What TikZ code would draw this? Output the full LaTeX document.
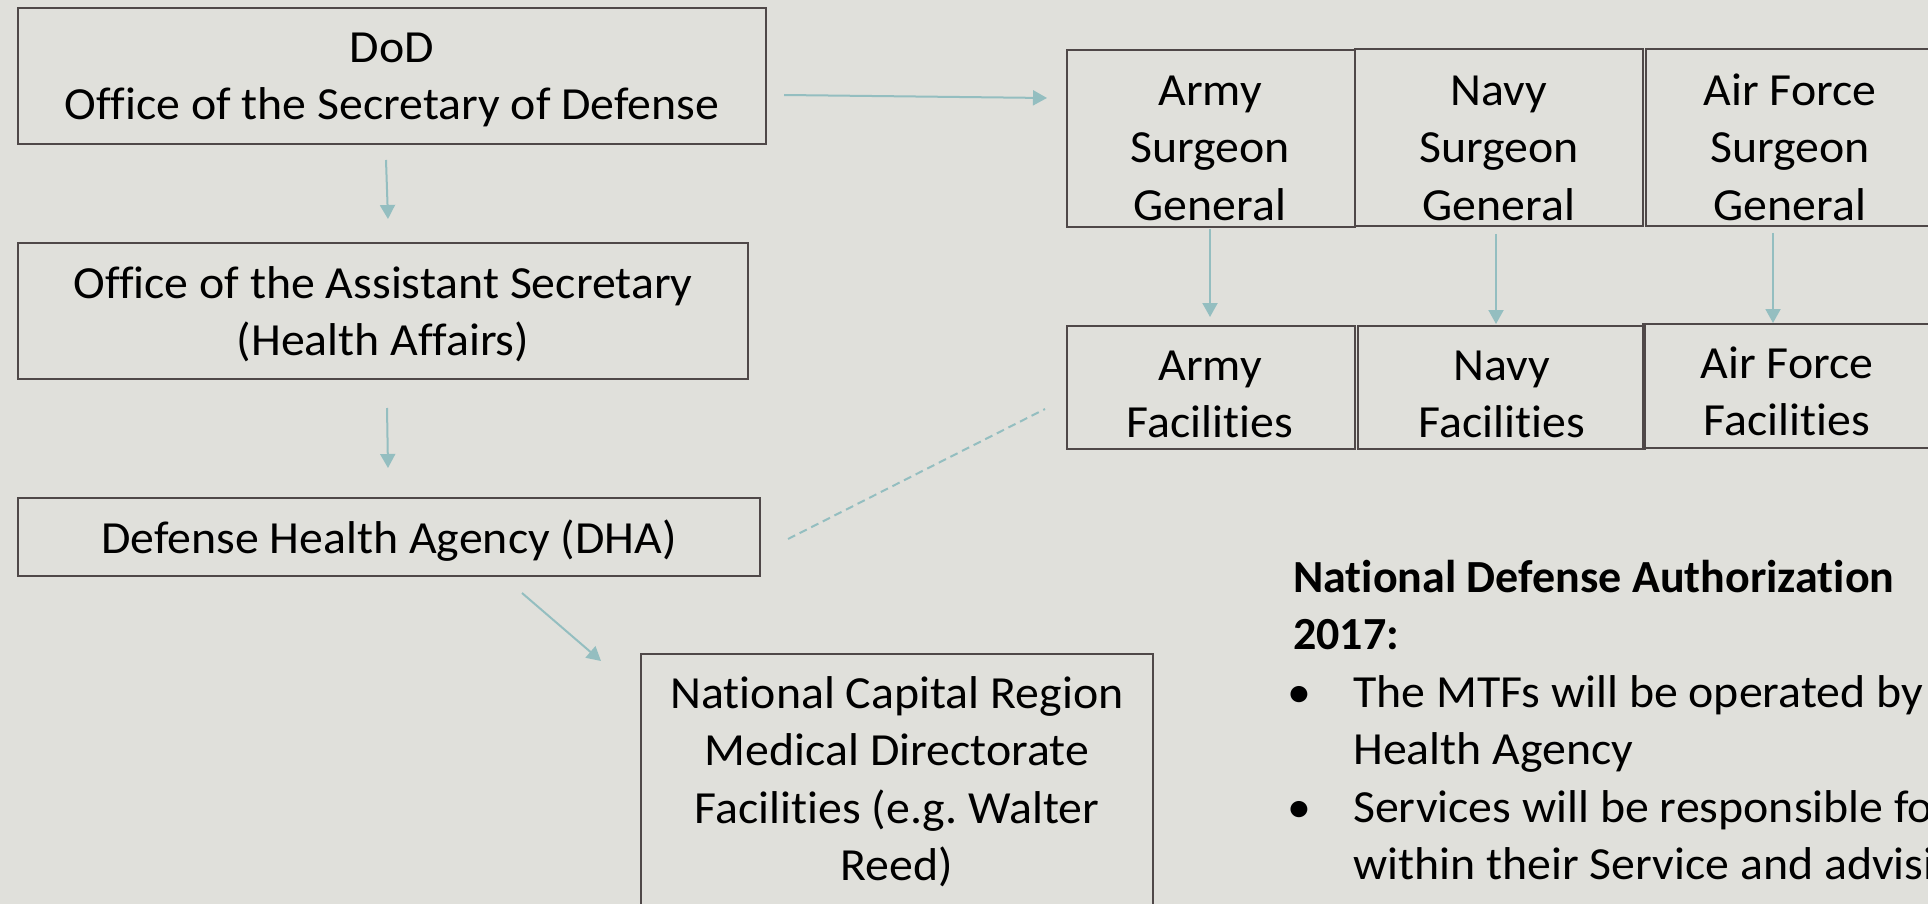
\documentclass[tikz,border=0pt]{standalone}
\usepackage{fontspec}
\setmainfont{Carlito}[Ligatures=NoCommon, FakeStretch=1.04]
\newfontfamily\headfont{Carlito}[Ligatures=NoCommon]
\usetikzlibrary{arrows.meta,calc}
\definecolor{bgc}{HTML}{E0E0DB}
\definecolor{arrc}{HTML}{94BEC0}
\definecolor{boxc}{HTML}{4F4848}
\newcommand{\tstr}{\rule{0pt}{40pt}}
\frenchspacing
\begin{document}
\begin{tikzpicture}[x=1pt,y=-1pt,
  font=\fontsize{46}{57.5}\selectfont,
  box/.style={draw=boxc, line width=2pt, inner sep=0pt},
  txt/.style={anchor=north, inner sep=0pt, align=center},
  arr/.style={draw=arrc, line width=2pt, -{Triangle[length=14pt,width=15pt]}},
  dashline/.style={draw=arrc, line width=2pt, dash pattern=on 8pt off 5pt}]
\path[use as bounding box, fill=bgc] (0,0) rectangle (1928,904);
\clip (0,0) rectangle (1928,904);

% boxes
\node[box, minimum width=748pt, minimum height=136pt] (dod) at (392,76) {};
\node[box, minimum width=730pt, minimum height=136pt] (oasd) at (383,311) {};
\node[box, minimum width=742pt, minimum height=78pt] (dha) at (389,537) {};
\node[box, minimum width=288pt, minimum height=177pt] (armysg) at (1211,138.5) {};
\node[box, minimum width=288pt, minimum height=177pt] (navysg) at (1499,137.5) {};
\node[box, minimum width=288pt, minimum height=177pt] (afsg) at (1790,137.5) {};
\node[box, minimum width=288pt, minimum height=123pt] (armyfac) at (1211,387.5) {};
\node[box, minimum width=287pt, minimum height=123pt] (navyfac) at (1501.5,387.5) {};
\node[box, minimum width=288pt, minimum height=124pt] (affac) at (1787,386) {};
\node[box, minimum width=512pt, minimum height=276pt] (ncr) at (897,792) {};

% box texts
\node[txt] (dodt) at (392,22) {\tstr DoD\\Office of the Secretary of Defense};
\node[txt] (oasdt) at (383,258) {\tstr Office of the Assistant Secretary\\(Health Affairs)};
\node[txt] (dhat) at (389,513) {\tstr Defense Health Agency (DHA)};
\node[txt] (armysgt) at (1210,65) {\tstr Army\\Surgeon\\General};
\node[txt] (navysgt) at (1499,65) {\tstr Navy\\Surgeon\\General};
\node[txt] (afsgt) at (1790,65) {\tstr Air Force\\Surgeon\\General};
\node[txt] (armyfact) at (1210,340) {\tstr Army\\Facilities};
\node[txt] (navyfact) at (1502,340) {\tstr Navy\\Facilities};
\node[txt] (affact) at (1787,338) {\tstr Air Force\\Facilities};
\node[txt] (ncrt) at (897,668) {\tstr National Capital Region\\Medical Directorate\\Facilities (e.g. Walter\\Reed)};

% connectors
\draw[arr] ($(dod.south)+(-6,15)$) -- ($(oasd.north)+(5,-23)$);
\draw[arr] ($(oasd.south)+(4,28)$) -- ($(dha.north)+(-1,-29)$);
\draw[arr] ($(dod.east)+(17,19)$) -- ($(armysg.west)+(-19,-40.5)$);
\draw[arr] ($(armysg.south)+(-1,1)$) -- ($(armyfac.north)+(-1,-8)$);
\draw[arr] ($(navysg.south)+(-3,7)$) -- ($(navyfac.north)+(-5.5,-1)$);
\draw[arr] ($(afsg.south)+(-17,6)$) -- ($(affac.north)+(-14,0)$);
\draw[arr] ($(dha.south)+(133,16)$) -- ($(ncr.north west)+(-39,8)$);
\draw[dashline] ($(dha.east)+(27,2)$) -- ($(armyfac.west)+(-21,21.5)$);

% right text
\node[anchor=north west, inner sep=0pt, align=left, font=\fontsize{46}{57.5}\headfont\bfseries] (head) at (1293,552) {\tstr National Defense Authorization\\2017:};
\node[anchor=base] (bul1) at (1299,707) {•};
\node[anchor=base] (bul2) at (1299,822) {•};
\node[anchor=north west, inner sep=0pt, align=left] (body) at (1353,667) {\tstr The MTFs will be operated by\\Health Agency\\Services will be responsible fo\\within their Service and advisi};
\end{tikzpicture}
\end{document}
